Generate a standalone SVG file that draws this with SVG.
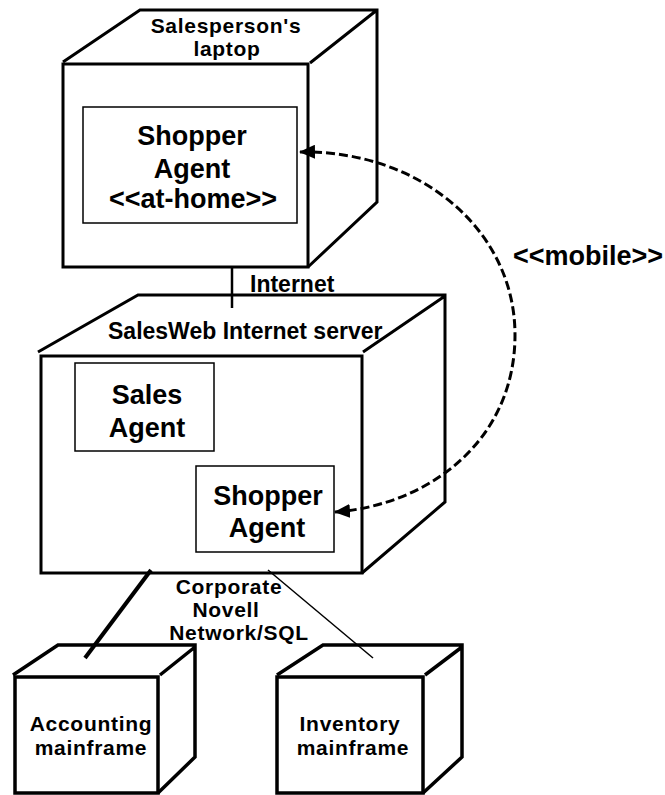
<svg xmlns="http://www.w3.org/2000/svg" width="665" height="795" viewBox="0 0 665 795">
<style>
  text { font-family: "Liberation Sans", Arial, sans-serif; font-weight: bold; fill: #000; }
  .lbl { font-size: 23px; }
  .sm { font-size: 21px; letter-spacing: 0.7px; }
  .big { font-size: 27px; }
  .mid { text-anchor: middle; }
  .edge { fill: none; stroke: #000; stroke-width: 3; stroke-linejoin: miter; stroke-linecap: butt; }
  .front { fill: #fff; stroke: #000; stroke-width: 3; }
  .inner { fill: #fff; stroke: #000; stroke-width: 1.5; }
  .mf { fill: none; stroke: #000; stroke-width: 3.5; }
  .mfront { fill: #fff; stroke: #000; stroke-width: 3.5; }
</style>
<defs>
  <marker id="arrow" viewBox="0 0 16 14" refX="15" refY="7" markerWidth="16" markerHeight="14" markerUnits="userSpaceOnUse" orient="auto-start-reverse">
    <path d="M0,0 L16,7 L0,14 Z" fill="#000"/>
  </marker>
</defs>
<rect width="665" height="795" fill="#fff"/>

<g id="laptop">
  <path class="edge" d="M63,62 L140,10 L377,10 L377,202 L308,267 M310,63 L377,10"/>
  <rect class="front" x="63" y="64" width="245" height="203"/>
  <text class="sm mid" x="226" y="33">Salesperson's</text>
  <text class="sm mid" x="227" y="56">laptop</text>
</g>
<g id="shopper-home">
  <rect class="inner" x="83" y="107" width="214" height="116"/>
  <text class="big mid" x="192" y="145">Shopper</text>
  <text class="big mid" x="192" y="178">Agent</text>
  <text class="big mid" x="193" y="208">&lt;&lt;at-home&gt;&gt;</text>
</g>

<g id="server">
  <path class="edge" d="M38,352 L138,295 L445,295 L445,502 L362,573 M363,352 L445,296"/>
  <rect class="front" x="41" y="356" width="321" height="217"/>
  <text class="lbl" x="108" y="339">SalesWeb Internet server</text>
</g>
<g id="sales-agent">
  <rect class="inner" x="75" y="363" width="139" height="88"/>
  <text class="big mid" x="147" y="404">Sales</text>
  <text class="big mid" x="147" y="437">Agent</text>
</g>
<g id="shopper-server">
  <rect class="inner" x="196" y="466" width="138" height="86"/>
  <text class="big mid" x="268" y="505">Shopper</text>
  <text class="big mid" x="267" y="537">Agent</text>
</g>

<g id="accounting">
  <path class="mf" d="M13,675 L58,645 L195,645 L195,757 L158,793 M160,675 L195,647"/>
  <rect class="mfront" x="15" y="677" width="143" height="116"/>
  <text class="sm mid" x="91" y="731">Accounting</text>
  <text class="sm mid" x="91" y="755">mainframe</text>
</g>
<g id="inventory">
  <path class="mf" d="M277,675 L323,645 L462,645 L462,757 L423,793 M425,675 L462,647"/>
  <rect class="mfront" x="277" y="677" width="146" height="116"/>
  <text class="sm mid" x="350" y="731">Inventory</text>
  <text class="sm mid" x="353" y="755">mainframe</text>
</g>

<g id="connectors">
  <line x1="232" y1="267" x2="232" y2="308" stroke="#000" stroke-width="2.5"/>
  <text class="lbl" x="250" y="292">Internet</text>
  <path d="M300,152 C420,150 515,230 515,335 C515,440 430,505 335,512" fill="none" stroke="#000" stroke-width="3" stroke-dasharray="9,4" marker-start="url(#arrow)" marker-end="url(#arrow)"/>
  <text class="big" x="513" y="265">&lt;&lt;mobile&gt;&gt;</text>
  <line x1="151" y1="570" x2="85" y2="658" stroke="#000" stroke-width="4"/>
  <line x1="268" y1="570" x2="373" y2="658" stroke="#000" stroke-width="1.5"/>
  <text class="sm mid" x="229" y="594">Corporate</text>
  <text class="sm mid" x="226" y="617">Novell</text>
  <text class="sm mid" x="239" y="640">Network/SQL</text>
</g>
</svg>
